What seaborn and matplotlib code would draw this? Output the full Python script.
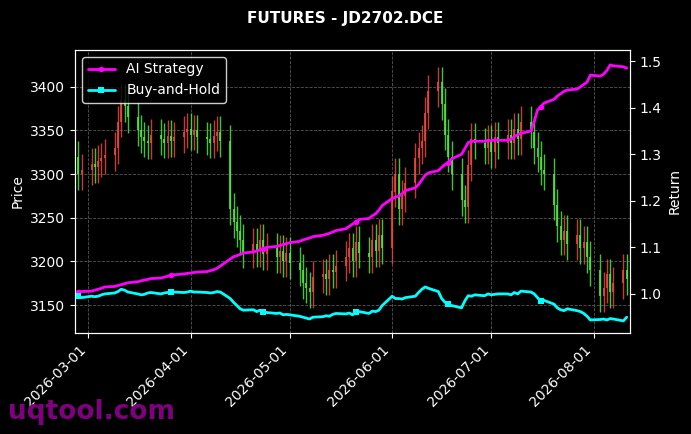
import numpy as np
import pandas as pd
import matplotlib
matplotlib.use("Agg")
import matplotlib.pyplot as plt
import matplotlib.dates as mdates
import seaborn as sns

dates = pd.bdate_range("2026-02-26", "2026-08-11")

closes = [3300, 3305,
          3312, 3308, 3315, 3318, 3322,
          3330, 3360, 3385, 3378, 3365,
          3350, 3342, 3338, 3335, 3345,
          3340, 3336, 3344, 3338, 3342,
          3348, 3352, 3345, 3350, 3342,
          3340, 3336, 3344, 3348, 3338,
          3260, 3245, 3235, 3225, 3210,
          3220, 3212, 3225, 3208, 3215,
          3205, 3212, 3200, 3210, 3198,
          3190, 3175, 3170, 3165, 3182,
          3185, 3180, 3190, 3188, 3195,
          3205, 3215, 3200, 3222, 3210,
          3205, 3225, 3212, 3230, 3215,
          3280, 3300, 3260, 3275, 3290,
          3318, 3330, 3338, 3370, 3395,
          3405, 3380, 3345, 3320, 3300,
          3270, 3262, 3310, 3340, 3335,
          3330, 3338, 3325, 3342, 3335,
          3345, 3335, 3352, 3340, 3360,
          3348, 3330, 3320, 3305, 3300,
          3265, 3240, 3225, 3235, 3220,
          3230, 3215, 3222, 3205, 3190,
          3160, 3170, 3185, 3165, 3175,
          3190, 3180]

strategy = [1.005, 1.005,
            1.006, 1.008, 1.010, 1.012, 1.015,
            1.016, 1.018, 1.020, 1.022, 1.024,
            1.026, 1.028, 1.030, 1.031, 1.033,
            1.034, 1.036, 1.038, 1.040, 1.041,
            1.043, 1.044, 1.045, 1.046, 1.047,
            1.048, 1.050, 1.052, 1.055, 1.060,
            1.075, 1.080, 1.082, 1.085, 1.088,
            1.090, 1.092, 1.095, 1.097, 1.100,
            1.102, 1.104, 1.106, 1.108, 1.110,
            1.113, 1.116, 1.118, 1.120, 1.123,
            1.126, 1.128, 1.130, 1.133, 1.136,
            1.140, 1.145, 1.150, 1.155, 1.160,
            1.162, 1.168, 1.172, 1.180, 1.190,
            1.205, 1.208, 1.210, 1.215, 1.222,
            1.228, 1.235, 1.245, 1.255, 1.260,
            1.265, 1.272, 1.278, 1.282, 1.290,
            1.300, 1.312, 1.325, 1.328, 1.328,
            1.328, 1.330, 1.329, 1.331, 1.330,
            1.330, 1.332, 1.338, 1.342, 1.345,
            1.350, 1.370, 1.395, 1.402, 1.410,
            1.418, 1.425, 1.430, 1.435, 1.438,
            1.440, 1.445, 1.450, 1.455, 1.470,
            1.468, 1.472, 1.480, 1.492, 1.490,
            1.488, 1.485]

buy_hold = [0.995, 0.992,
            0.995, 0.994, 0.995, 0.998, 1.000,
            1.002, 1.005, 1.010, 1.008, 1.004,
            1.000, 0.998, 0.999, 1.002, 1.003,
            1.000, 1.002, 1.003, 1.004, 1.004,
            1.003, 1.004, 1.006, 1.004, 1.004,
            1.003, 1.002, 1.003, 1.005, 1.004,
            0.990, 0.982, 0.975, 0.968, 0.965,
            0.966, 0.962, 0.965, 0.962, 0.960,
            0.958, 0.959, 0.955, 0.956, 0.955,
            0.952, 0.950, 0.948, 0.946, 0.950,
            0.951, 0.953, 0.952, 0.956, 0.958,
            0.957, 0.959, 0.955, 0.962, 0.962,
            0.958, 0.963, 0.962, 0.965, 0.975,
            0.995, 0.990, 0.990, 0.989, 0.992,
            0.995, 1.003, 1.010, 1.015, 1.012,
            1.005, 0.990, 0.982, 0.978, 0.975,
            0.970, 0.985, 0.996, 0.995, 0.998,
            0.996, 1.000, 0.998, 0.999, 1.000,
            1.000, 0.998, 1.003, 1.000, 1.006,
            1.004, 1.000, 0.992, 0.985, 0.986,
            0.978, 0.970, 0.966, 0.964, 0.968,
            0.964, 0.962, 0.958, 0.952, 0.944,
            0.945, 0.946, 0.944, 0.947, 0.946,
            0.942, 0.950]

closes = np.array(closes, dtype=float)
opens = np.concatenate([[3320.0], closes[:-1]])
highs = np.maximum(opens, closes) + 18
lows = np.minimum(opens, closes) - 18

df = pd.DataFrame({"date": dates, "AI Strategy": strategy, "Buy-and-Hold": buy_hold})

sns.set_style("dark")
plt.rcParams["font.family"] = ["DejaVu Sans"]
fig = plt.figure(figsize=(6.91, 4.34), dpi=100, facecolor="black")
ax = fig.add_axes([75/691, 101/434, 555/691, 283/434])
ax.set_facecolor("black")

up = closes >= opens
colors = np.where(up, "#e8483f", "#4ee83c")
ax.vlines(dates, lows, highs, colors=colors, linewidth=1, alpha=0.85)
body_lo = np.minimum(opens, closes)
body_h = np.maximum(np.abs(closes - opens), 1)
ax.bar(dates, body_h, bottom=body_lo, width=0.6, color=colors, alpha=0.85, linewidth=0)

ax.set_ylim(3118, 3442)
ax.set_ylabel("Price", color="white")
ax.grid(True, color="#555555", linestyle="--", linewidth=0.6)
ax.xaxis.set_major_locator(mdates.MonthLocator())
ax.xaxis.set_major_formatter(mdates.DateFormatter("%Y-%m-%d"))
plt.setp(ax.get_xticklabels(), rotation=45, ha="right")
ax.tick_params(colors="white", labelsize=10, bottom=True, left=True)

ax2 = ax.twinx()
sns.lineplot(data=df, x="date", y="AI Strategy", ax=ax2, color="#ff00ff", linewidth=2,
             marker="o", markersize=4, markevery=20, markeredgewidth=0, label="AI Strategy")
sns.lineplot(data=df, x="date", y="Buy-and-Hold", ax=ax2, color="#00ffff", linewidth=2,
             marker="s", markersize=4, markevery=20, markeredgewidth=0, label="Buy-and-Hold")
ax2.set_ylim(0.916, 1.524)
ax2.set_ylabel("Return", color="white")
ax2.set_xlabel("")
ax2.tick_params(colors="white", labelsize=10, right=True)
ax2.grid(False)
for a in (ax, ax2):
    for s in a.spines.values():
        s.set_color("white")
ax2.legend(loc="upper left", facecolor="black", edgecolor="white", labelcolor="white", fontsize=10)
ax.set_xlim(pd.Timestamp("2026-02-25"), pd.Timestamp("2026-08-12"))

fig.suptitle("FUTURES - JD2702.DCE", color="white", fontweight="bold", fontsize=11, y=0.975)
fig.text(0.012, 0.035, "uqtool.com", color="#800080", fontsize=19, fontweight="bold")
fig.savefig("out.png", dpi=100, facecolor="black")
